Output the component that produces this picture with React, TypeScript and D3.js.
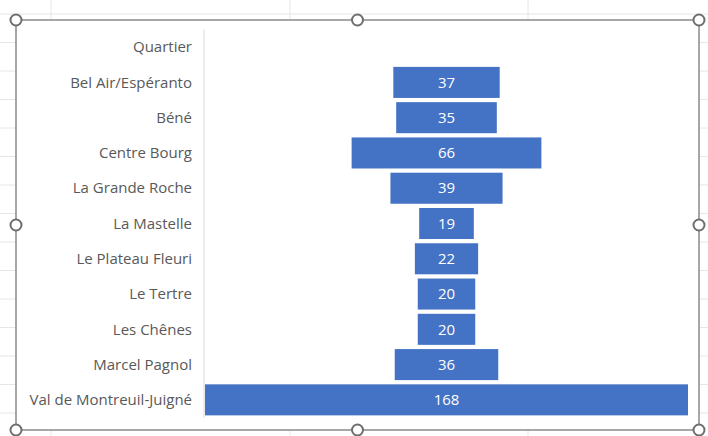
import React, { useRef, useEffect } from 'react'
import * as d3 from 'd3'

const categories = [
  'Quartier',
  'Bel Air/Espéranto',
  'Béné',
  'Centre Bourg',
  'La Grande Roche',
  'La Mastelle',
  'Le Plateau Fleuri',
  'Le Tertre',
  'Les Chênes',
  'Marcel Pagnol',
  'Val de Montreuil-Juigné',
]
const values: (number | null)[] = [null, 37, 35, 66, 39, 19, 22, 20, 20, 36, 168]

const W = 708
const H = 436

export default function App() {
  const node = useRef<SVGSVGElement | null>(null)

  useEffect(() => {
    document.body.style.margin = '0'
    const svg = d3.select(node.current)
    svg.selectAll('*').remove()

    // spreadsheet grid behind the chart
    const grid = svg.append('g').attr('stroke', '#e6e6e6').attr('stroke-width', 1)
    ;[51, 290, 528].forEach((x) => grid.append('line').attr('x1', x).attr('x2', x).attr('y1', 0).attr('y2', H))
    d3.range(14, H, 28.5).forEach((y) => grid.append('line').attr('x1', 0).attr('x2', W).attr('y1', y).attr('y2', y))

    const box = { left: 16, top: 20, right: 699, bottom: 430 }
    svg
      .append('rect')
      .attr('x', box.left)
      .attr('y', box.top)
      .attr('width', box.right - box.left)
      .attr('height', box.bottom - box.top)
      .attr('fill', '#fff')
      .attr('stroke', '#8a8a8a')
      .attr('stroke-width', 1.5)

    const plotLeft = 205
    const plotRight = 688
    const y = d3.scaleBand().domain(categories).range([29.5, 417.5]).paddingInner(0.12).paddingOuter(0.06)
    const maxV = d3.max(values as number[])
    const w = d3.scaleLinear().domain([0, maxV]).range([0, plotRight - plotLeft])
    const cx = (plotLeft + plotRight) / 2

    svg
      .append('line')
      .attr('x1', plotLeft - 1)
      .attr('x2', plotLeft - 1)
      .attr('y1', y.range()[0])
      .attr('y2', y.range()[1])
      .attr('stroke', '#d9d9d9')

    const rows = categories.map((c, i) => ({ c, v: values[i] }))

    svg
      .append('g')
      .selectAll('rect')
      .data(rows.filter((d) => d.v != null))
      .join('rect')
      .attr('x', (d) => cx - w(d.v) / 2)
      .attr('y', (d) => y(d.c))
      .attr('width', (d) => w(d.v))
      .attr('height', y.bandwidth())
      .attr('fill', '#4472c4')

    svg
      .append('g')
      .attr('font-family', '"Open Sans", sans-serif')
      .attr('font-size', 15)
      .selectAll('text')
      .data(rows.filter((d) => d.v != null))
      .join('text')
      .attr('x', cx)
      .attr('y', (d) => y(d.c) + y.bandwidth() / 2)
      .attr('dy', '0.35em')
      .attr('text-anchor', 'middle')
      .attr('fill', '#fff')
      .text((d) => d.v)

    svg
      .append('g')
      .attr('font-family', '"Open Sans", sans-serif')
      .attr('font-size', 15)
      .selectAll('text')
      .data(rows)
      .join('text')
      .attr('x', 192)
      .attr('y', (d) => y(d.c) + y.bandwidth() / 2)
      .attr('dy', '0.35em')
      .attr('text-anchor', 'end')
      .attr('fill', '#595959')
      .text((d) => d.c)

    // selection handles
    const mx = (box.left + box.right) / 2
    const my = (box.top + box.bottom) / 2
    const handles = [
      [box.left, box.top], [mx, box.top], [box.right, box.top],
      [box.left, my], [box.right, my],
      [box.left, box.bottom], [mx, box.bottom], [box.right, box.bottom],
    ]
    svg
      .append('g')
      .selectAll('circle')
      .data(handles)
      .join('circle')
      .attr('cx', (d) => d[0])
      .attr('cy', (d) => d[1])
      .attr('r', 5.5)
      .attr('fill', '#fff')
      .attr('stroke', '#6e6e6e')
      .attr('stroke-width', 2)
  }, [])

  return <svg ref={node} width={W} height={H} style={{ display: 'block' }}></svg>
}
